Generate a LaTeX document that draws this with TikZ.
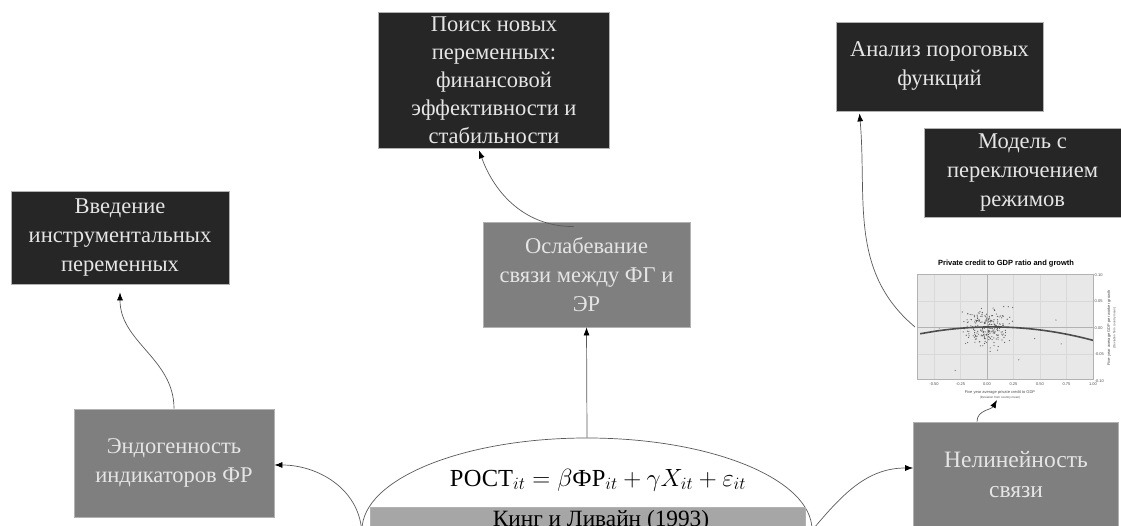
\documentclass[tikz,border=0pt]{standalone}
\usepackage{fontspec}
\setmainfont{Liberation Serif}
\newfontfamily\chartfont{Liberation Sans}
\usetikzlibrary{shapes.geometric,arrows.meta}
\definecolor{boxdark}{HTML}{262626}
\definecolor{boxmid}{HTML}{7F7F7F}
\definecolor{boxlight}{HTML}{A6A6A6}
\definecolor{plotbg}{HTML}{E8E8E8}

\begin{document}
\begin{tikzpicture}[
    x=1pt, y=1pt,
    box_text/.style={rectangle, draw=gray!60, line width=0.8pt, align=center, text=white!90!black, inner sep=0pt, font=\fontsize{22.5}{29}\selectfont},
    box_dark/.style={box_text, fill=boxdark},
    box_mid/.style={box_text, fill=boxmid},
    link/.style={draw=gray!70!black, line width=0.7pt, -{Latex[length=8pt,width=6pt,color=black]}},
    tick_label/.style={font=\chartfont\fontsize{4}{4.5}\selectfont, inner sep=0.5pt, text=black!70}
]
\useasboundingbox (0,0) rectangle (1121,526);

% top row
\node[box_dark, minimum width=218, minimum height=93] (intro) at (120,288.5) {Введение\\инструментальных\\переменных};
\node[box_dark, minimum width=231, minimum height=136, font=\fontsize{22.5}{28}\selectfont] (search) at (494,446) {Поиск новых\\переменных:\\финансовой\\эффективности и\\стабильности};
\node[box_dark, minimum width=207, minimum height=89] (thresh) at (939.5,459.5) {Анализ пороговых\\функций};
\node[box_dark, minimum width=197, minimum height=89] (regime) at (1022.5,353.5) {Модель с\\переключением\\режимов};

% middle row
\node[box_mid, minimum width=207, minimum height=105] (weak) at (586.5,251.5) {Ослабевание\\связи между ФГ и\\ЭР};
\node[box_mid, minimum width=200, minimum height=108] (endo) at (174,63) {Эндогенность\\индикаторов ФР};
\node[box_mid, minimum width=205, minimum height=106, font=\fontsize{23.5}{30}\selectfont] (nonlin) at (1016,51) {Нелинейность\\связи};

% base model
\node[ellipse, draw=gray!70!black, line width=0.7pt, fill=white, minimum width=450, minimum height=184] (model) at (587,-4) {};
\node[font=\fontsize{24.5}{28}\selectfont] (formula) at (598,46) {РОСТ$_{it}=\beta$ФР$_{it}+\gamma X_{it}+\varepsilon_{it}$};
\node[rectangle, draw=gray!60, fill=boxlight, minimum width=435, minimum height=40] (source) at (587.5,-1) {};
\node[anchor=base, font=\fontsize{23.3}{26}\selectfont, inner sep=0pt] (source_text) at (601,-1) {Кинг и Ливайн (1993)};

% chart
\fill[plotbg] (917,146) rectangle (1093,251);
\foreach \v in {-0.5,-0.25,0.25,0.5,0.75}
    \draw[gray!30, line width=0.4pt] ({987+106*\v},146) -- ({987+106*\v},251);
\foreach \w in {-0.05,0.05}
    \draw[gray!30, line width=0.4pt] (917,{198+530*\w}) -- (1093,{198+530*\w});
\begin{scope}
    \clip (917,146) rectangle (1093,251);
    \pgfmathsetseed{42}
    \foreach \i in {1,...,250}{
        \pgfmathsetmacro\u{0.1*(rand+rand+rand)}
        \pgfmathsetmacro\w{0.018*(rand+rand+rand)}
        \fill[black!65] ({987+106*\u},{198+530*\w}) circle (0.6pt);
    }
    \foreach \u/\w in {-0.3/-0.08,0.45/-0.02,0.65/0.015,0.7/-0.03,0.2/0.04,-0.45/0.0,0.3/-0.06}
        \fill[black!65] ({987+106*\u},{198+530*\w}) circle (0.6pt);
\end{scope}
\draw[gray!60, line width=1pt] (987,146) -- (987,251);
\draw[gray!60, line width=1pt] (917,198) -- (1093,198);
\draw[black!70, line width=1.6pt] plot[domain=-0.63:1, samples=30] ({987+106*\x},{198+530*(0.002-0.028*(\x-0.05)^2)});
\draw[gray!60, line width=1pt] (917,146) rectangle (1093,251);
\foreach \v/\t in {-0.5/-0.50,-0.25/-0.25,0/0.00,0.25/0.25,0.5/0.50,0.75/0.75,1/1.00}
    \node[tick_label, anchor=north] at ({987+106*\v},144) {\t};
\foreach \w/\t in {0.1/0.10,0.05/0.05,0/0.00,-0.05/-0.05,-0.1/-0.10}
    \node[tick_label, anchor=west] at (1094,{198+530*\w}) {\t};
\node[tick_label] (x_title) at (1000,134) {Five year average private credit to GDP};
\node[tick_label, font=\chartfont\fontsize{3}{3.5}\selectfont] (x_note) at (1000,128.5) {(Deviation from country mean)};
\node[tick_label, rotate=90] (y_title) at (1109,198) {Five-year average GDP per worker growth};
\node[tick_label, rotate=90, font=\chartfont\fontsize{3}{3.5}\selectfont] (y_note) at (1114.5,198) {(Deviation from country mean)};
\node[font=\chartfont\bfseries\fontsize{7.5}{8.5}\selectfont, inner sep=1pt] (chart_title) at (1006,262) {Private credit to GDP ratio and growth};
\coordinate (chart_left) at (915,199);
\coordinate (chart_bottom) at (997,126);

% links
\draw[link] (model.north) -- (weak.south);
\draw[link] ([xshift=-13pt,yshift=-5pt]weak.north) to[out=180, in=-70] ([xshift=-15pt,yshift=-2pt]search.south);
\draw[link] (endo.north) to[out=90, in=-90] ([yshift=-8pt]intro.south);
\draw[link] (model.west) to[out=95, in=0] ([yshift=-2pt]endo.east);
\draw[link] (model.east) to[out=50, in=180] ([yshift=7pt]nonlin.west);
\draw[link] ([xshift=-39pt]nonlin.north) to[out=90, in=-120] (chart_bottom);
\draw[link] (chart_left) to[out=140, in=-85] ([xshift=-80pt,yshift=-2pt]thresh.south);
\end{tikzpicture}
\end{document}
